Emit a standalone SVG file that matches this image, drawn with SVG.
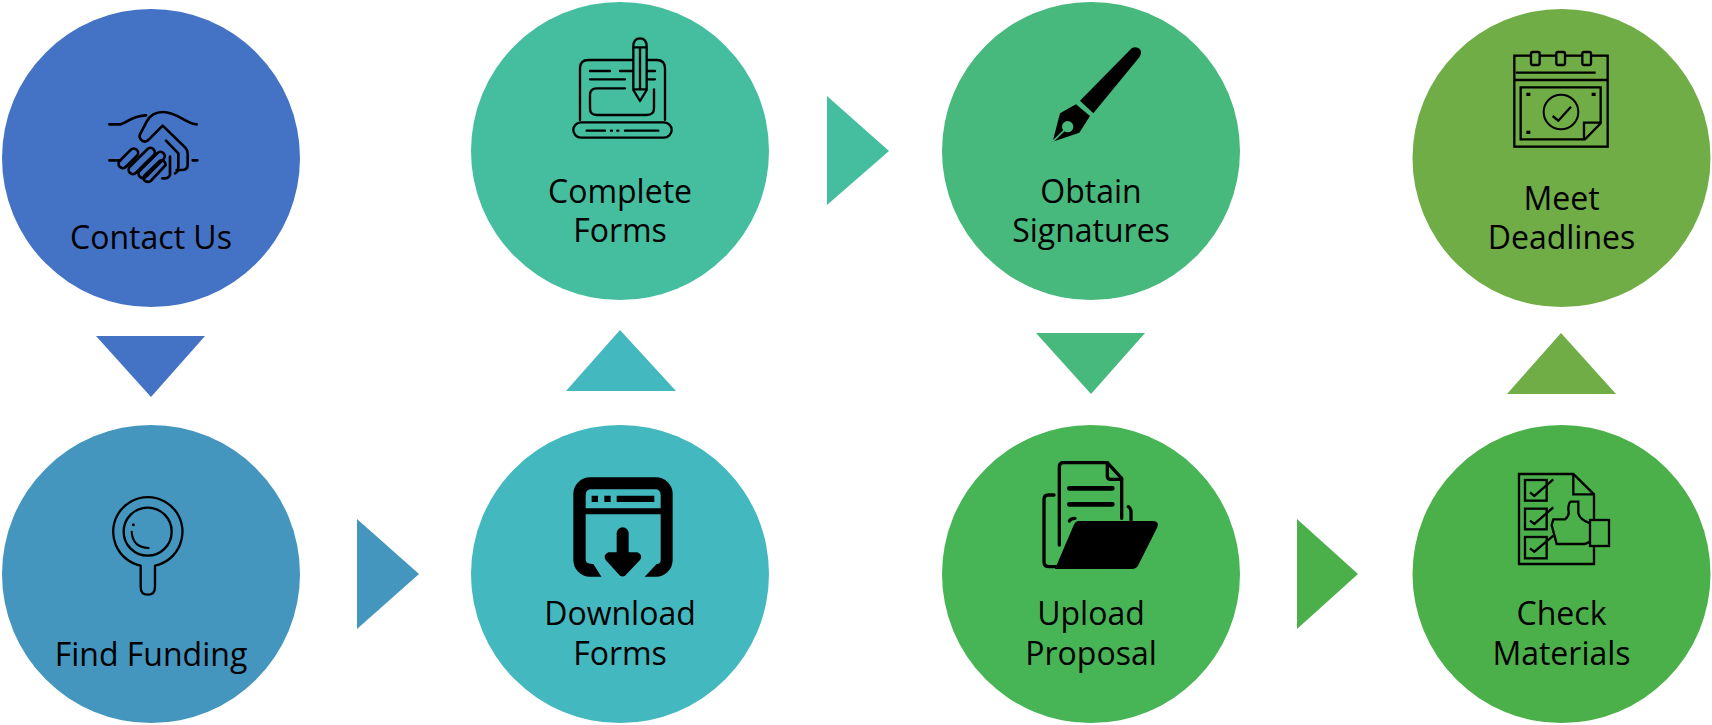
<svg xmlns="http://www.w3.org/2000/svg" width="1712" height="725" viewBox="0 0 1712 725">
<style>
text{font-family:"Open Sans","Noto Sans","Liberation Sans",sans-serif;font-size:32px;fill:#000;text-anchor:middle}
.ic{fill:none;stroke:#000;stroke-width:7;stroke-linecap:round;stroke-linejoin:round}
.sq{stroke-linecap:butt;stroke-linejoin:miter;stroke-width:7}
.k{fill:#000;stroke:none}
</style>
<rect width="1712" height="725" fill="#fff"/>
<g id="connectors">
<polygon points="96,336 205,336 151,397" fill="#4472C4"/>
<polygon points="357,519 419,574 357,629" fill="#4596BF"/>
<polygon points="566,391 676,391 620,330" fill="#44B8BF"/>
<polygon points="827,96 889,151 827,205" fill="#45BD9F"/>
<polygon points="1036,333 1145,333 1091,394" fill="#47B97C"/>
<polygon points="1297,519 1358,574 1297,629" fill="#4CB04A"/>
<polygon points="1507,394 1616,394 1561,333" fill="#70AD47"/>
</g>
<g id="contact-us">
<circle cx="151" cy="158" r="149" fill="#4472C4"/>
<g class="ic" transform="scale(.33333)" style="stroke-width:8">
<path d="M328 373H362C385 365 395 348 438 346"/>
<path d="M590 373C560 372 530 336 490 336C465 336 450 345 440 365L420 403Q415 415 428 423Q438 428 447 418L488 377L556 443Q563 450 563 462V495Q563 510 545 510H530"/>
<path d="M498 422L535 460V500Q535 515 525 520M510 470V525Q505 537 487 535"/>
<path d="M328 481H358M578 481H592"/>
<rect x="-36" y="-13" width="72" height="26" rx="13" transform="translate(385 475) rotate(-45)"/>
<rect x="-50" y="-13" width="100" height="26" rx="13" transform="translate(425 483) rotate(-45)"/>
<rect x="-50" y="-13" width="100" height="26" rx="13" transform="translate(455 495) rotate(-45)"/>
<path d="M435 525L480 482Q495 478 497 495L452 543Q442 550 432 540Q428 532 435 525Z"/>
</g>
<text x="151" y="249">Contact Us</text>
</g>
<g id="find-funding">
<circle cx="151" cy="574" r="149" fill="#4596BF"/>
<g class="ic" transform="translate(90 480) scale(.33333)">
<path d="M152 257A104 104 0 1 1 195 257V320Q195 344 173 344Q152 344 152 320Z"/>
<circle cx="173" cy="155" r="72"/>
<path d="M125 155Q128 203 176 204" style="stroke-width:6"/>
<circle cx="130" cy="134" r="2" style="stroke-width:5"/>
</g>
<text x="151" y="666">Find Funding</text>
</g>
<g id="complete-forms">
<circle cx="620" cy="151" r="149" fill="#45BD9F"/>
<g class="ic" transform="translate(540 20) scale(.33333)">
<path d="M120 300V145Q120 120 145 120H278M322 120H350Q375 120 375 145V300"/>
<rect x="100" y="307" width="295" height="46" rx="23"/>
<path d="M150 153H210M240 153H278M322 153H345M150 178H255M322 178H345"/>
<path d="M255 205H170Q150 205 150 225V265Q150 285 170 285H320Q342 285 342 265V208"/>
<path d="M280 80Q280 55 300 55Q320 55 320 80V210L300 243L280 210ZM280 82H320M300 85V205M280 208H320"/>
<path d="M140 332H195M213 332H216M232 332H235M255 332H355"/>
</g>
<text x="620" y="203">Complete</text>
<text x="620" y="242">Forms</text>
</g>
<g id="download-forms">
<circle cx="620" cy="574" r="149" fill="#44B8BF"/>
<g transform="translate(560 465) scale(.33333)">
<rect x="40" y="37" width="298" height="298" rx="50" class="k"/>
<path d="M77 148H302V285Q302 297 290 297L250 340H127L100 297Q77 297 77 285Z" fill="#44B8BF"/>
<path d="M77 130V90Q77 73 94 73H285Q302 73 302 90V130Z" fill="#44B8BF"/>
<path class="k" d="M95 92h19v19h-19zM133 92h19v19h-19zM170 92h113v19h-113z"/>
<path d="M188 205V280" stroke="#000" stroke-width="36" stroke-linecap="round"/>
<path class="k" d="M145 262H232Q250 270 240 285L195 332Q188 337 180 332L137 285Q128 270 145 262Z"/>
</g>
<text x="620" y="625">Download</text>
<text x="620" y="665">Forms</text>
</g>
<g id="obtain-signatures">
<circle cx="1091" cy="151" r="149" fill="#47B97C"/>
<g transform="translate(1030 30) scale(.33333)">
<path class="k" d="M150 212L305 55Q318 48 330 58Q337 68 328 82L190 250Z"/>
<path class="k" d="M68 335L90 250L138 223L180 258L148 308Z"/>
<circle cx="113" cy="290" r="17" fill="#47B97C"/>
<path d="M68 335L112 292" stroke="#47B97C" stroke-width="5"/>
</g>
<text x="1091" y="203">Obtain</text>
<text x="1091" y="242">Signatures</text>
</g>
<g id="upload-proposal">
<circle cx="1091" cy="574" r="149" fill="#47B456"/>
<g transform="translate(1030 450) scale(.33333)">
<g class="ic" style="stroke-width:10">
<path d="M88 285V50Q88 38 100 38H232L275 85V205"/>
<path d="M232 38V78Q232 88 242 88H275"/>
<path d="M118 115H247M118 163H247" style="stroke-width:14"/>
<path d="M118 213Q122 205 135 205"/>
<path d="M72 135H55Q42 135 42 148V335Q42 350 58 350H80M295 170Q303 175 303 185V212"/>
</g>
<path class="k" d="M145 213H372Q388 215 382 232L325 345Q320 357 305 357H75L130 228Q135 215 145 213Z"/>
</g>
<text x="1091" y="625">Upload</text>
<text x="1091" y="665">Proposal</text>
</g>
<g id="meet-deadlines">
<circle cx="1561.5" cy="158" r="149" fill="#70AD47"/>
<g class="ic sq" transform="translate(1500 40) scale(.33333)">
<rect x="43" y="47" width="280" height="273"/>
<path d="M47 98H287" />
<path d="M43 120H323"/>
<path d="M62 142H302V250L255 298H62Z"/>
<path d="M252 298V248H302"/>
<circle cx="183" cy="216" r="52" style="stroke-width:6"/>
<path d="M158 228L175 242L213 200"/>
<rect x="93" y="36" width="26" height="39" rx="5" fill="#70AD47"/>
<rect x="169" y="36" width="26" height="39" rx="5" fill="#70AD47"/>
<rect x="247" y="36" width="26" height="39" rx="5" fill="#70AD47"/>
<path class="k" d="M79 158h12v10h-12zM275 158h12v10h-12zM79 272h12v10h-12z"/>
</g>
<text x="1561.5" y="210">Meet</text>
<text x="1561.5" y="249">Deadlines</text>
</g>
<g id="check-materials">
<circle cx="1561.5" cy="574" r="149" fill="#4CB04A"/>
<g class="ic sq" transform="translate(1500 460) scale(.33333)">
<path d="M282 180V103L220 42H57V312H282V258"/>
<path d="M220 42V103H282"/>
<rect x="75" y="60" width="65" height="62"/>
<rect x="75" y="146" width="65" height="62"/>
<rect x="75" y="231" width="65" height="64"/>
<path d="M90 97L103 108L160 58M90 182L103 192L160 142M90 265L103 275L160 227"/>
<path d="M270 190Q240 180 235 160V125H212Q205 130 205 150Q210 165 195 178H160L155 195L170 252H255L270 245"/>
<rect x="270" y="180" width="57" height="78"/>
</g>
<text x="1561.5" y="625">Check</text>
<text x="1561.5" y="665">Materials</text>
</g>
</svg>
